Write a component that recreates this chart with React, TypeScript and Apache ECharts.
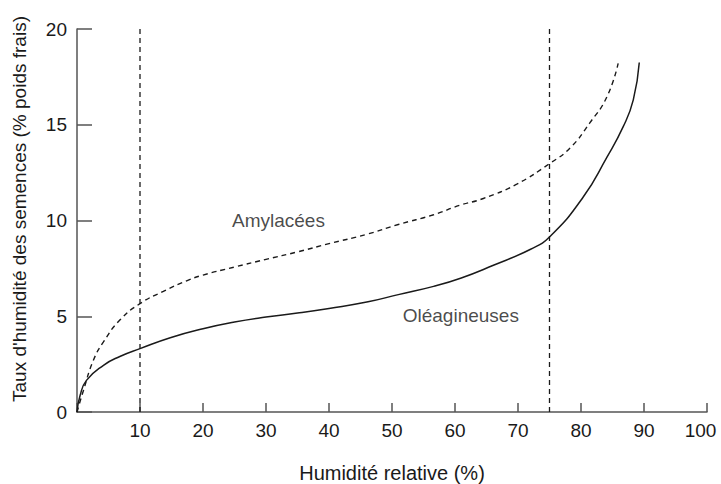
import React, { useEffect, useRef } from "react";
import * as echarts from "echarts";

const xTitle = "Humidité relative (%)";
const yTitle = "Taux d'humidité des semences (% poids frais)";

// Amylacées (dashed curve): [humidité relative, taux d'humidité]
const amylacees: number[][] = [
  [0, 0], [1, 1.1], [2.6, 2.7], [4.2, 3.66], [6.8, 4.8], [10, 5.66], [13.7, 6.3],
  [17.4, 6.85], [20, 7.15], [25, 7.57], [30, 7.97], [35, 8.36], [40, 8.79],
  [46, 9.28], [51, 9.79], [56.6, 10.3], [60.8, 10.8], [64.5, 11.15], [69.8, 11.9],
  [75, 12.97], [78.3, 13.8], [81.4, 15.1], [84.1, 16.45], [85.9, 18.2],
];

// Oléagineuses (solid curve)
const oleagineuses: number[][] = [
  [0, 0], [0.5, 0.87], [1.5, 1.65], [4.2, 2.44], [6.8, 2.9], [10, 3.31], [14.8, 3.88],
  [20, 4.35], [25, 4.7], [30, 4.96], [35, 5.17], [40, 5.41], [46, 5.74], [51, 6.13],
  [56.6, 6.56], [61, 7.0], [66, 7.65], [72, 8.5], [75, 9.14], [80.3, 11.2],
  [84.1, 13.3], [86.7, 14.9], [88.3, 16.3], [89.25, 18.25],
];

// Vertical dashed reference lines (humidité relative)
const refLines: number[] = [10, 75];

// Curve labels: [x, y, text]
const annotations: [number, number, string][] = [
  [24.6, 10.0, "Amylacées"],
  [51.7, 5.02, "Oléagineuses"],
];

const FONT = "'Liberation Sans', Arial, Helvetica, sans-serif";
const INK = "#1a1a1a";
const AXIS = "#555";

export default function App() {
  const ref = useRef<HTMLDivElement>(null);

  useEffect(() => {
    if (!ref.current) return;
    const chart = echarts.init(ref.current, undefined, { renderer: "svg" });

    const refSeries = refLines.map((x) => ({
      type: "line",
      data: [[x, 0], [x, 20]],
      symbol: "none",
      silent: true,
      lineStyle: { color: INK, width: 1.3, type: [5, 4] },
      z: 1,
    }));

    chart.setOption({
      animation: false,
      backgroundColor: "#fff",
      textStyle: { fontFamily: FONT },
      grid: {
        left: 77,
        right: 14,
        top: 29,
        bottom: 72,
        containLabel: false,
        outerBoundsMode: "none",
      },
      xAxis: {
        type: "value",
        min: 0,
        max: 100,
        interval: 10,
        name: xTitle,
        nameLocation: "middle",
        nameGap: 51,
        nameTextStyle: { fontSize: 20, color: INK, fontFamily: FONT },
        axisLine: { lineStyle: { color: AXIS, width: 1.5 } },
        axisTick: { inside: true, length: 9, lineStyle: { color: AXIS, width: 1.5 } },
        axisLabel: {
          fontSize: 19,
          color: INK,
          margin: 9,
          fontFamily: FONT,
          formatter: (v: number) =>
            v === 0 ? "" : v === 100 ? "{last|" + v + "}" : String(v),
          rich: {
            last: {
              fontSize: 19,
              color: INK,
              fontFamily: FONT,
              padding: [0, 13, 0, 0],
            },
          },
        },
        splitLine: { show: false },
      },
      yAxis: {
        type: "value",
        min: 0,
        max: 20,
        interval: 5,
        axisLine: { show: true, lineStyle: { color: AXIS, width: 1.5 } },
        axisTick: { show: true, inside: true, length: 15, lineStyle: { color: AXIS, width: 1.5 } },
        axisLabel: {
          fontSize: 19,
          color: INK,
          margin: 10,
          fontFamily: FONT,
          padding: [0, 0, 10, 0],
        },
        splitLine: { show: false },
      },
      graphic: [
        {
          type: "text",
          x: 19,
          y: 209,
          rotation: Math.PI / 2,
          style: {
            text: yTitle,
            fontSize: 19,
            fill: INK,
            fontFamily: FONT,
            align: "center",
            verticalAlign: "middle",
          },
        },
      ],
      series: [
        ...refSeries,
        {
          type: "line",
          name: "Amylacées",
          data: amylacees,
          symbol: "none",
          smooth: 0.5,
          lineStyle: { color: INK, width: 1.4, type: [5, 4] },
          z: 2,
        },
        {
          type: "line",
          name: "Oléagineuses",
          data: oleagineuses,
          symbol: "none",
          smooth: 0.5,
          lineStyle: { color: INK, width: 1.5 },
          z: 2,
        },
        {
          type: "scatter",
          data: annotations.map((a) => ({ value: [a[0], a[1]], name: a[2] })),
          symbolSize: 0,
          silent: true,
          label: {
            show: true,
            position: "right",
            distance: 0,
            formatter: (p: any) => p.name,
            fontSize: 19,
            color: INK,
            fontFamily: FONT,
          },
          z: 3,
        },
      ],
    });

    return () => chart.dispose();
  }, []);

  return (
    <div
      ref={ref}
      style={{ position: "fixed", left: 0, top: 0, width: 721, height: 484 }}
    />
  );
}
